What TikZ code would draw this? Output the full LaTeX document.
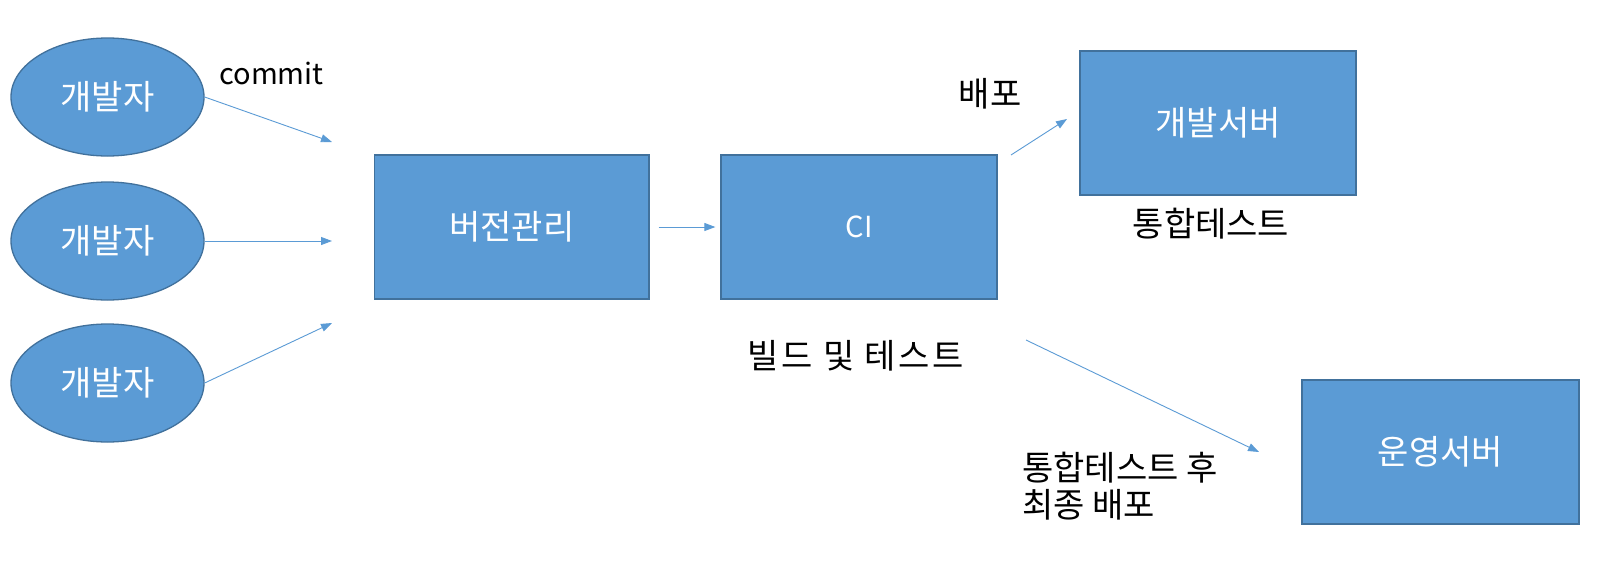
\documentclass[tikz,border=0pt]{standalone}
\usepackage{fontspec}
\newfontfamily\kr{Noto Sans CJK KR}
\newfontfamily\krwide[LetterSpace=8]{Noto Sans CJK KR}
\usetikzlibrary{shapes.geometric,arrows.meta}
\definecolor{boxfill}{HTML}{5B9BD5}
\definecolor{boxline}{HTML}{41719C}
\begin{document}
\begin{tikzpicture}[x=1pt,y=-1pt,
  every node/.style={font=\kr\fontsize{34}{37}\selectfont},
  latin/.style={font=\kr\fontsize{29}{37}\selectfont},
  dev/.style={ellipse,draw=boxline,fill=boxfill,line width=1.3pt,minimum width=193pt,minimum height=118pt,inner sep=0pt,text=white},
  box/.style={rectangle,draw=boxline,fill=boxfill,line width=1.3pt,minimum height=144pt,inner sep=0pt,text=white},
  lbl/.style={text=black,inner sep=0pt},
  conn/.style={draw=boxfill,line width=0.9pt,-{Triangle[length=11pt,width=8pt]}}
]
\useasboundingbox (0,0) rectangle (1600,560);
\fill[white] (0,0) rectangle (1600,560);

\node[dev] (e1) at (107.5,97) {개발자};
\node[dev] (e2) at (107.5,241) {개발자};
\node[dev] (e3) at (107.5,383) {개발자};

\node[box,minimum width=274.5pt] (vc) at (511.75,227) {버전관리};
\node[box,minimum width=276pt,latin] (ci) at (859,227) {CI};
\node[box,minimum width=276pt] (dev) at (1218,123) {개발서버};
\node[box,minimum width=277pt] (prod) at (1440.5,452) {운영서버};

\coordinate (m1) at (332,142);
\coordinate (m2) at (332,241);
\coordinate (m3) at (332,323);
\coordinate (d0) at (1011,155);
\coordinate (d1) at (1067,119);
\coordinate (p0) at (1026,340);
\coordinate (p1) at (1259,452);

\draw[conn] (e1.east) -- (m1);
\draw[conn] (e2.east) -- (m2);
\draw[conn] (e3.east) -- (m3);
\draw[conn,shorten <=9pt,shorten >=5pt] (vc.east) -- (ci.west);
\draw[conn] (d0) -- (d1);
\draw[conn] (p0) -- (p1);

\node[lbl,latin,anchor=base] (lc) at (271.5,84) {commit};
\node[lbl] (ld) at (990,94) {배포};
\node[lbl] (lt) at (1211,223.5) {통합테스트};
\node[lbl,font=\krwide\fontsize{34}{37}\selectfont] (lb) at (856,356) {빌드 및 테스트};
\node[lbl,anchor=west,align=left] (lp) at (1022,486) {통합테스트 후\\최종 배포};
\end{tikzpicture}
\end{document}
